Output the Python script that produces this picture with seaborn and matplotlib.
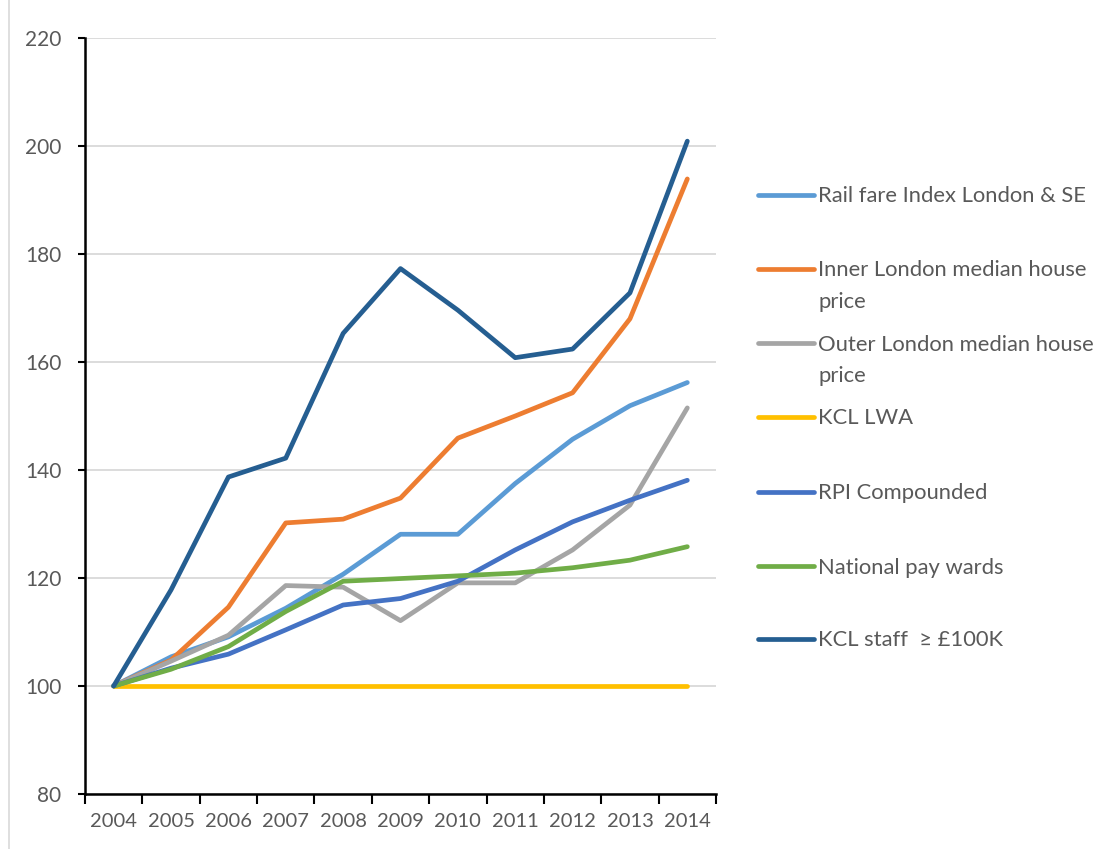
import matplotlib
matplotlib.use("Agg")
import matplotlib.pyplot as plt
from matplotlib.lines import Line2D
import seaborn as sns
import pandas as pd
import numpy as np

years = ["2004", "2005", "2006", "2007", "2008", "2009", "2010", "2011", "2012", "2013", "2014"]

rail_fare = [100, 105.4, 109.1, 114.4, 120.7, 128.1, 128.1, 137.5, 145.7, 151.9, 156.2]
inner_london = [100, 104.8, 114.6, 130.2, 130.9, 134.8, 145.9, 150.0, 154.3, 168.0, 193.9]
outer_london = [100, 104.6, 109.4, 118.6, 118.3, 112.1, 119.1, 119.1, 125.2, 133.5, 151.5]
kcl_lwa = [100, 100, 100, 100, 100, 100, 100, 100, 100, 100, 100]
rpi = [100, 103.3, 105.9, 110.4, 115.0, 116.2, 119.4, 125.2, 130.4, 134.4, 138.1]
national_pay = [100, 103.1, 107.3, 113.8, 119.4, 119.9, 120.4, 120.9, 121.9, 123.3, 125.8]
kcl_staff = [100, 117.8, 138.7, 142.2, 165.3, 177.3, 169.6, 160.8, 162.4, 172.8, 200.9]

series_names = [
    "Rail fare Index London & SE",
    "Inner London median house\nprice",
    "Outer London median house\nprice",
    "KCL LWA",
    "RPI Compounded",
    "National pay wards",
    "KCL staff  \u2265 \u00a3100K",
]
series_values = [rail_fare, inner_london, outer_london, kcl_lwa, rpi, national_pay, kcl_staff]
series_colors = ["#5B9BD5", "#ED7D31", "#A5A5A5", "#FFC000", "#4472C4", "#70AD47", "#255E91"]

y_ticks = [80, 100, 120, 140, 160, 180, 200, 220]

rows = []
for name, vals in zip(series_names, series_values):
    for i, v in enumerate(vals):
        rows.append({"pos": i, "year": years[i], "index": v, "series": name})
df = pd.DataFrame(rows)

sns.set_theme(style="white")
plt.rcParams["font.family"] = ["Lato", "DejaVu Sans"]

W, H = 1111, 849
fig = plt.figure(figsize=(W / 100, H / 100), dpi=100)
fig.patch.set_facecolor("white")

# faint chart-area border on the left
fig.add_artist(Line2D([9 / W, 9 / W], [0, 1], color="#D9D9D9", linewidth=1.2,
                      transform=fig.transFigure))

ax_left, ax_right, ax_top, ax_bottom = 85, 716, 38, 794
ax = fig.add_axes([ax_left / W, 1 - ax_bottom / H, (ax_right - ax_left) / W, (ax_bottom - ax_top) / H])

sns.lineplot(
    data=df, x="pos", y="index", hue="series", hue_order=series_names,
    palette=dict(zip(series_names, series_colors)), linewidth=3.4,
    legend=False, ax=ax, sort=False,
)
for ln in ax.get_lines():
    ln.set_solid_capstyle("round")
    ln.set_solid_joinstyle("round")

ax.set_xlim(-0.5, len(years) - 0.5)
ax.set_ylim(80, 220)
ax.set_yticks(y_ticks)
ax.set_yticklabels([str(t) for t in y_ticks])
ax.yaxis.grid(True, color="#D9D9D9", linewidth=1.3)
ax.set_axisbelow(True)

# category boundaries carry the tick marks, labels sit at the centres
ax.set_xticks(np.arange(-0.5, len(years), 1.0))
ax.set_xticklabels([])
ax.set_xticks(np.arange(len(years)), minor=True)
ax.set_xticklabels(years, minor=True)
ax.tick_params(axis="x", which="major", direction="out", length=7, width=1.5, color="black", bottom=True)
ax.tick_params(axis="x", which="minor", length=0, pad=14, labelsize=14.5, labelcolor="#595959")
ax.tick_params(axis="y", direction="out", length=5, width=1.5, color="black", left=True,
               pad=12, labelsize=15, labelcolor="#595959")

ax.set_xlabel("")
ax.set_ylabel("")
for side in ["top", "right"]:
    ax.spines[side].set_visible(False)
for side in ["left", "bottom"]:
    ax.spines[side].set_color("black")
    ax.spines[side].set_linewidth(1.8)

# legend on the right: handle aligned with the first text line
legend_y = [195, 269, 343, 417, 492, 566, 639]
fs = 15.8
for name, color, yc in zip(series_names, series_colors, legend_y):
    fig.add_artist(Line2D([758 / W, 814 / W], [1 - yc / H, 1 - yc / H],
                          color=color, linewidth=3.4, solid_capstyle="round",
                          transform=fig.transFigure))
    for k, line in enumerate(name.split("\n")):
        base = yc + 7.5 + k * 31
        fig.text(818 / W, 1 - base / H, line, fontsize=fs, color="#595959",
                 ha="left", va="baseline")

fig.savefig("out.png", dpi=100, facecolor="white")
